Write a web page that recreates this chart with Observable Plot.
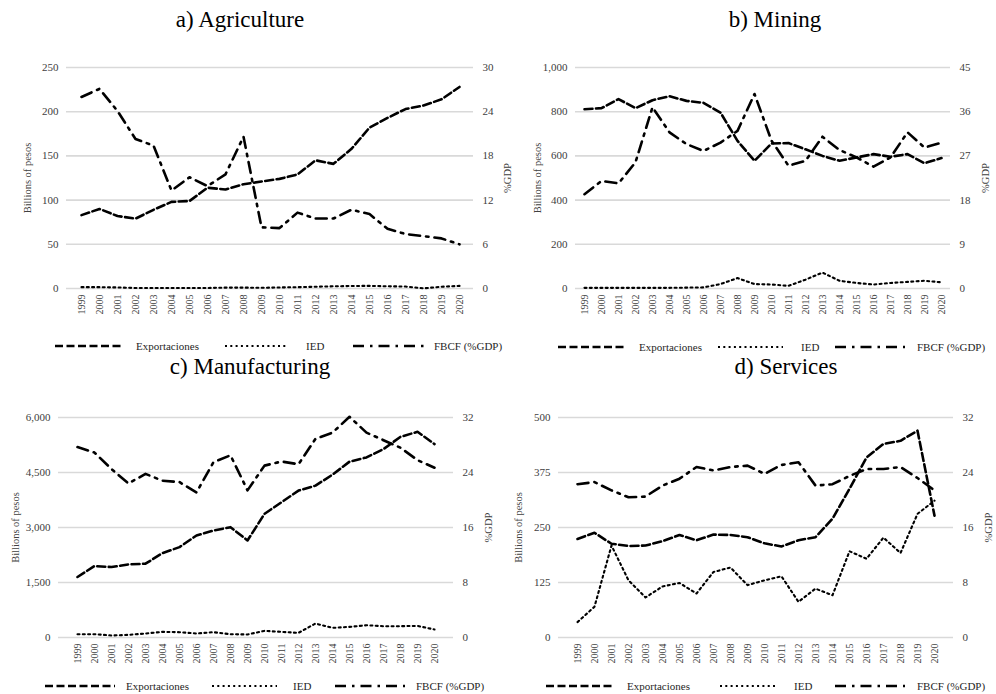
<!DOCTYPE html>
<html><head><meta charset="utf-8">
<script src="https://cdn.jsdelivr.net/npm/d3@7"></script>
<script src="https://cdn.jsdelivr.net/npm/@observablehq/plot@0.6"></script>
<style>
body{margin:0;background:#fff;}
#root{position:relative;width:996px;height:694px;overflow:hidden;font-family:"Liberation Serif","Times New Roman",serif;}
.panel{position:absolute;}
.panel svg{overflow:visible;background:transparent;}
.panel svg text, #overlay text{font-family:"Liberation Serif","Times New Roman",serif;}
#overlay{position:absolute;left:0;top:0;pointer-events:none;}
</style></head><body><div id="root"></div>
<script>
// ---- data ----
const years = [1999,2000,2001,2002,2003,2004,2005,2006,2007,2008,2009,2010,2011,2012,2013,2014,2015,2016,2017,2018,2019,2020];
const seriesNames = ["Exportaciones","IED","FBCF (%GDP)"];
const panelTitles = ["a) Agriculture","b) Mining","c) Manufacturing","d) Services"];
const leftLabel = "Billions of pesos";
const rightLabel = "%GDP";

const agriExport = [83,90,82,79,89,98,99,114,112,118,121,124,129,145,141,158,182,193,203,207,214,228];
const agriIED    = [1.5,1.5,1.2,0.6,0.5,0.5,0.5,0.6,1,1,0.8,1.2,1.5,2,2.5,2.8,3,2.5,2.2,0.2,2,3];
const agriFBCF   = [26.0,27.1,24.1,20.3,19.4,13.3,15.1,13.9,15.5,20.6,8.3,8.2,10.3,9.5,9.5,10.7,10.1,8.1,7.4,7.1,6.8,6.0];

const mineExport = [811,816,857,816,852,870,849,840,796,668,578,656,658,630,600,578,593,608,596,608,567,590];
const mineIED    = [3,3,3,3,3,3,4,5,20,47,20,18,12,40,72,35,25,18,25,30,35,28];
const mineFBCF   = [19.2,21.9,21.4,25.7,36.9,31.8,29.4,28.0,29.7,32.1,39.6,30.1,25.0,26.0,30.9,28.2,26.7,24.8,26.7,31.8,28.7,29.7];

const manuExport = [1650,1949,1921,1994,2012,2302,2465,2783,2918,3009,2647,3372,3689,4006,4142,4441,4795,4912,5139,5474,5610,5275];
const manuIED    = [90,90,55,72,109,154,145,109,145,90,82,181,154,127,381,263,290,335,308,308,317,218];
const manuFBCF   = [27.7,26.9,24.5,22.4,23.8,22.8,22.6,21.1,25.5,26.5,21.4,25.0,25.6,25.2,28.9,29.8,32.1,29.8,28.7,27.6,25.8,24.7];

const servExport = [224,238,213,208,209,219,233,221,234,233,228,214,207,221,228,270,338,409,440,447,470,277];
const servIED    = [35,70,209,130,91,116,124,100,149,159,119,130,139,81,111,96,196,179,227,192,281,311];
const servFBCF   = [22.3,22.6,21.4,20.4,20.5,22.1,23.1,24.8,24.3,24.8,25.0,23.8,25.1,25.5,22.1,22.3,23.5,24.5,24.5,24.8,23.2,21.4];

const leftMax  = [250, 1000, 6000, 500];
const leftStep = [50, 200, 1500, 125];
const rightMax = [30, 45, 32, 32];
const exportsBy = [agriExport, mineExport, manuExport, servExport];
const iedBy     = [agriIED, mineIED, manuIED, servIED];
const fbcfBy    = [agriFBCF, mineFBCF, manuFBCF, servFBCF];

// ---- layout & styles ----
const layout = [
  {left:0,   top:40,  mL:66, mR:25, mT:27, mB:42, yLab:-39, rLab:34, titleX:240, titleY:27,  legendY:346, leg:[55,123,130,225,288,300,353,425,428]},
  {left:498, top:40,  mL:77, mR:46, mT:27, mB:42, yLab:-38, rLab:35, titleX:775, titleY:27,  legendY:347, leg:[60,128,135,220,285,297,337,407,413]},
  {left:0,   top:390, mL:58, mR:45, mT:27, mB:43, yLab:-43, rLab:35, titleX:250, titleY:374, legendY:686, leg:[45,115,120,212,277,287,335,405,410]},
  {left:498, top:390, mL:60, mR:43, mT:27, mB:43, yLab:-40, rLab:35, titleX:786, titleY:374, legendY:686, leg:[48,117,123,222,278,290,337,407,413]}
];
const styles = [
  {strokeWidth:2.6, strokeDasharray:"8,3.5"},
  {strokeWidth:2.1, strokeDasharray:"2,3.3"},
  {strokeWidth:2.6, strokeDasharray:"11,6,2.5,6"}
];
const font = "'Liberation Serif', 'Times New Roman', serif";
const textColor = "#404040";

const root = document.getElementById("root");

layout.forEach((L, p) => {
  const k = leftMax[p] / rightMax[p];
  const rows = years.map((yr, i) => ({year: yr, exp: exportsBy[p][i], ied: iedBy[p][i], fbcf: fbcfBy[p][i] * k}));
  const ticks = d3.range(0, leftMax[p] + 1e-9, leftStep[p]);
  const chart = Plot.plot({
    width: 498, height: 290,
    marginTop: L.mT, marginBottom: L.mB, marginLeft: L.mL, marginRight: L.mR,
    style: {fontFamily: font, fontSize: "11px", color: textColor, background: "transparent", overflow: "visible"},
    x: {type: "point", domain: years, padding: 0.5},
    y: {domain: [0, leftMax[p]]},
    marks: [
      Plot.gridY(ticks, {stroke: "#d9d9d9", strokeOpacity: 1, strokeWidth: 1.6}),
      Plot.axisY(ticks, {anchor: "left", tickSize: 0, tickPadding: 8, fontSize: 11, tickFormat: d3.format(","), label: null}),
      Plot.axisY(ticks, {anchor: "right", tickSize: 0, tickPadding: 9, fontSize: 11, tickFormat: d => d3.format(",")(Math.round(d / k)), label: null}),
      Plot.axisX({tickRotate: -90, tickSize: 0, tickPadding: 6, fontSize: 10, tickFormat: d => String(d), label: null}),
      Plot.lineY(rows, {x: "year", y: "ied", stroke: "#000", ...styles[1]}),
      Plot.lineY(rows, {x: "year", y: "fbcf", stroke: "#000", ...styles[2]}),
      Plot.lineY(rows, {x: "year", y: "exp", stroke: "#000", ...styles[0]}),
      Plot.text([leftLabel], {text: d => d, frameAnchor: "left", dx: L.yLab, rotate: -90, textAnchor: "middle", lineAnchor: "middle", fontSize: 10.5, fill: textColor}),
      Plot.text([rightLabel], {text: d => d, frameAnchor: "right", dx: L.rLab, rotate: -90, textAnchor: "middle", lineAnchor: "middle", fontSize: 10.5, fill: textColor})
    ]
  });
  const div = document.createElement("div");
  div.className = "panel";
  div.style.left = L.left + "px";
  div.style.top = L.top + "px";
  div.appendChild(chart);
  root.appendChild(div);
});

// overlay: titles and legends
const svg = d3.select(root).append("svg").attr("id", "overlay").attr("width", 996).attr("height", 694);
layout.forEach((L, p) => {
  svg.append("text").attr("x", L.titleX).attr("y", L.titleY).attr("text-anchor", "middle")
    .attr("font-size", 23).attr("fill", "#000").text(panelTitles[p]);
  const g = svg.append("g").attr("transform", `translate(${L.left},${L.legendY})`);
  seriesNames.forEach((name, s) => {
    const x1 = L.leg[s * 3], x2 = L.leg[s * 3 + 1], tx = L.leg[s * 3 + 2];
    g.append("line").attr("x1", x1).attr("x2", x2).attr("y1", 0).attr("y2", 0)
      .attr("stroke", "#000").attr("stroke-width", styles[s].strokeWidth).attr("stroke-dasharray", styles[s].strokeDasharray);
    g.append("text").attr("x", tx + 6).attr("y", 0).attr("dy", "0.35em").attr("font-size", 11)
      .attr("fill", "#262626").text(name);
  });
});
</script>
</body></html>
